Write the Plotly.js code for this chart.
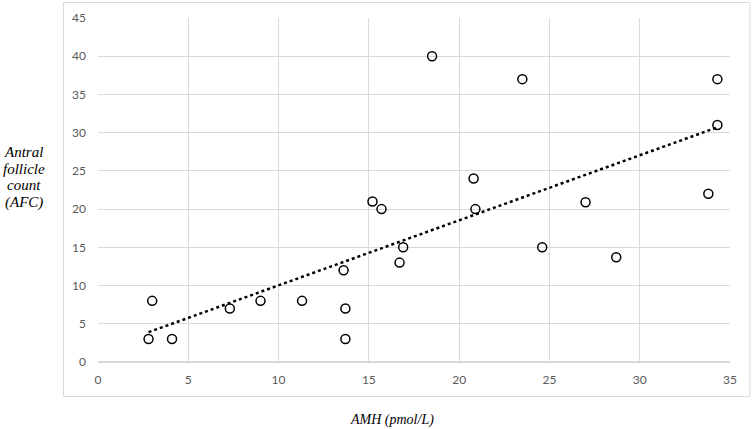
<!DOCTYPE html>
<html>
<head>
<meta charset="utf-8">
<script src="https://cdn.plot.ly/plotly-3.0.1.min.js"></script>
<style>
html,body{margin:0;padding:0;background:#fff;}
#chart{width:755px;height:429px;}
</style>
</head>
<body>
<div id="chart"></div>
<script>
// Data
var amh = [2.8, 3.0, 4.1, 7.3, 9.0, 11.3, 13.6, 13.7, 13.7, 15.2, 15.7, 16.9, 16.7, 18.5, 20.8, 20.9, 23.5, 24.6, 27.0, 28.7, 33.8, 34.3, 34.3];
var afc = [3, 8, 3, 7, 8, 8, 12, 7, 3, 21, 20, 15, 13, 40, 24, 20, 37, 15, 20.9, 13.7, 22, 37, 31];
// Trendline end points as drawn in the reference
var trendX = [2.8, 34.3];
var trendY = [3.9, 30.7];
var xTicks = [0, 5, 10, 15, 20, 25, 30, 35];
var yTicks = [0, 5, 10, 15, 20, 25, 30, 35, 40, 45];
var xTitle = "AMH (pmol/L)";
var yTitleLines = ["Antral", "follicle", "count", "(AFC)"];

var traces = [
  {
    x: trendX, y: trendY, mode: 'lines', type: 'scatter',
    line: {color: '#000000', width: 2.5, dash: 'dot'},
    hoverinfo: 'skip', showlegend: false
  },
  {
    x: amh, y: afc, mode: 'markers', type: 'scatter',
    marker: {symbol: 'circle-open', size: 9, color: '#000000', line: {width: 1.5, color: '#000000'}},
    showlegend: false
  }
];

var L = 98, R = 25, T = 18, B = 67, W = 755, H = 429;
var pw = W - L - R, ph = H - T - B;
function px2x(p){ return (p - L) / pw; }
function py2y(p){ return (H - B - p) / ph; }

var serif = '"Liberation Serif", "Times New Roman", serif';
var tickFont = {family: 'Lato, "Open Sans", sans-serif', size: 12, color: '#595959'};

var annotations = yTitleLines.map(function(t, i){
  return {text: t, xref: 'paper', yref: 'paper', x: px2x(23.5), y: py2y(152 + i * 16.7),
    xanchor: 'center', yanchor: 'middle', showarrow: false,
    font: {family: serif, size: 15, color: '#000000', style: 'italic'}};
});
annotations.push({text: xTitle, xref: 'paper', yref: 'paper', x: px2x(392), y: py2y(419.5),
  xanchor: 'center', yanchor: 'middle', showarrow: false,
  font: {family: serif, size: 14, color: '#000000', style: 'italic'}});

var layout = {
  width: W, height: H,
  margin: {l: L, r: R, t: T, b: B, pad: 0},
  paper_bgcolor: '#ffffff', plot_bgcolor: '#ffffff',
  showlegend: false,
  xaxis: {
    range: [0, 35], tickvals: xTicks, ticktext: xTicks.map(String),
    showgrid: true, gridcolor: '#d9d9d9', gridwidth: 1,
    zeroline: false, showline: false, ticks: '', tickfont: tickFont,
    ticklabelstandoff: 9, fixedrange: true
  },
  yaxis: {
    range: [0, 45], tickvals: yTicks, ticktext: yTicks.map(String),
    showgrid: true, gridcolor: '#d9d9d9', gridwidth: 1,
    zeroline: true, zerolinecolor: '#d9d9d9', zerolinewidth: 1.5,
    showline: false, ticks: '', tickfont: tickFont,
    ticklabelstandoff: 11, fixedrange: true
  },
  shapes: [
    {type: 'rect', xref: 'paper', yref: 'paper',
     x0: px2x(63.5), x1: px2x(750), y0: py2y(396.5), y1: py2y(2.5),
     line: {color: '#d9d9d9', width: 1}, fillcolor: 'rgba(0,0,0,0)', layer: 'below'}
  ],
  annotations: annotations
};

Plotly.newPlot('chart', traces, layout, {displayModeBar: false, staticPlot: true});
</script>
</body>
</html>
